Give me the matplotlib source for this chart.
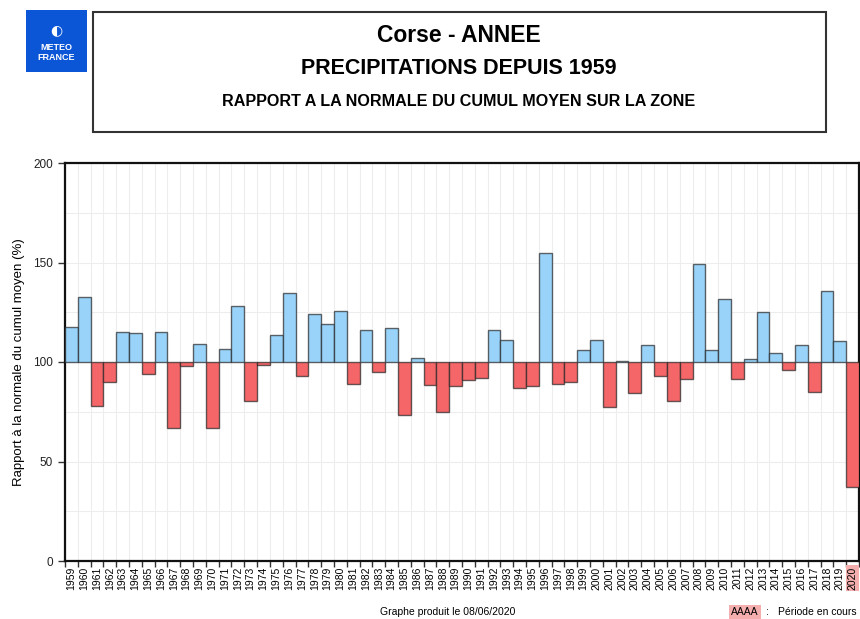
import matplotlib
matplotlib.use("Agg")
import matplotlib.pyplot as plt
from matplotlib.patches import Rectangle
import numpy as np

plt.rcParams['font.family'] = ['Liberation Sans', 'DejaVu Sans']

years = list(range(1959, 2021))
values = [117.5, 132.5, 78, 90, 115, 114.5, 94, 115, 67, 98, 109, 67, 106.5, 128, 80.5, 98.5,
          113.5, 134.5, 93, 124, 119, 125.5, 89, 116, 95, 117, 73.5, 102, 88.5, 75, 88, 91,
          92, 116, 111, 87, 88, 155, 89, 90, 106, 111, 77.5, 100.4, 84.5, 108.5, 93, 80.5,
          91.5, 149, 106, 131.5, 91.5, 101.5, 125, 104.5, 96, 108.5, 85, 135.5, 110.5, 37]
yticks = [0, 50, 100, 150, 200]
title1 = "Corse - ANNEE"
title2 = "PRECIPITATIONS DEPUIS 1959"
title3 = "RAPPORT A LA NORMALE DU CUMUL MOYEN SUR LA ZONE"
ylabel = "Rapport à la normale du cumul moyen (%)"
footer = "Graphe produit le 08/06/2020"

W, H = 860, 619
fig = plt.figure(figsize=(W / 100, H / 100), dpi=100)

def fx(px):
    return px / W

def fy(py):
    return 1 - py / H

# Logo
fig.patches.append(Rectangle((fx(26), fy(72)), fx(61), 62 / H, transform=fig.transFigure,
                             facecolor='#0B56D6', edgecolor='none'))
fig.text(fx(56.5), fy(30), "◐", color='white', ha='center', va='center', fontsize=10,
         family=['DejaVu Sans'])
fig.text(fx(56.5), fy(47), "METEO", color='white', ha='center', va='center', fontsize=6.5,
         fontweight='bold')
fig.text(fx(56.5), fy(57), "FRANCE", color='white', ha='center', va='center', fontsize=6.5,
         fontweight='bold')

# Title box
fig.patches.append(Rectangle((fx(93), fy(132)), fx(733), 120 / H, transform=fig.transFigure,
                             facecolor='white', edgecolor='#333333', linewidth=1.5))
fig.text(fx(459), fy(35), title1, ha='center', va='center', fontsize=16.5, fontweight='bold')
fig.text(fx(459), fy(68), title2, ha='center', va='center', fontsize=15.5, fontweight='bold')
fig.text(fx(459), fy(102), title3, ha='center', va='center', fontsize=11.6, fontweight='bold')

# Axes
ax = fig.add_axes([fx(65), fy(561), fx(859 - 65), (561 - 163) / H])
colors = ['#99D3FA' if v >= 100 else '#F46668' for v in values]
heights = [v - 100 for v in values]
ax.bar(years, heights, bottom=100, width=1.0, color=colors,
       edgecolor=(0.15, 0.15, 0.15, 0.7), linewidth=1.0, zorder=3)

ax.set_xlim(years[0] - 0.5, years[-1] + 0.5)
ax.set_ylim(0, 200)
ax.set_yticks(yticks)
ax.set_yticks(np.arange(25, 200, 50), minor=True)
ax.tick_params(axis='y', which='minor', length=0)
ax.tick_params(axis='y', which='major', labelsize=8.5, length=5, width=1, color='#333333',
               labelcolor='#222222')

edges = np.arange(years[0] - 0.5, years[-1] + 1.0, 1.0)
ax.set_xticks(edges)
ax.set_xticklabels([])
ax.set_xticks(years, minor=True)
ax.set_xticklabels([str(y) for y in years], minor=True, rotation=90, fontsize=7.5)
ax.tick_params(axis='x', which='minor', length=0, pad=4)
ax.tick_params(axis='x', which='major', length=4, width=1, color='#333333')

ax.grid(True, which='major', axis='x', color='#EDEDED', linewidth=0.8, zorder=0)
ax.grid(True, which='both', axis='y', color='#EDEDED', linewidth=0.8, zorder=0)
ax.set_axisbelow(True)

for s in ax.spines.values():
    s.set_linewidth(1.6)
    s.set_color('#111111')

ax.set_ylabel(ylabel, fontsize=9.5, labelpad=6)

for lbl in ax.get_xticklabels(minor=True):
    if lbl.get_text() == '2020':
        lbl.set_bbox(dict(facecolor='#F4AEAE', edgecolor='none', pad=1))

fig.text(fx(448), fy(612), footer, ha='center', va='center', fontsize=7.5)
fig.text(fx(745), fy(612), "AAAA", ha='center', va='center', fontsize=7.5,
         bbox=dict(facecolor='#F4AEAE', edgecolor='none', pad=1.5))
fig.text(fx(767), fy(612), ":", ha='center', va='center', fontsize=7.5)
fig.text(fx(857), fy(612), "Période en cours", ha='right', va='center', fontsize=7.5)

fig.savefig("out.png", dpi=100)
